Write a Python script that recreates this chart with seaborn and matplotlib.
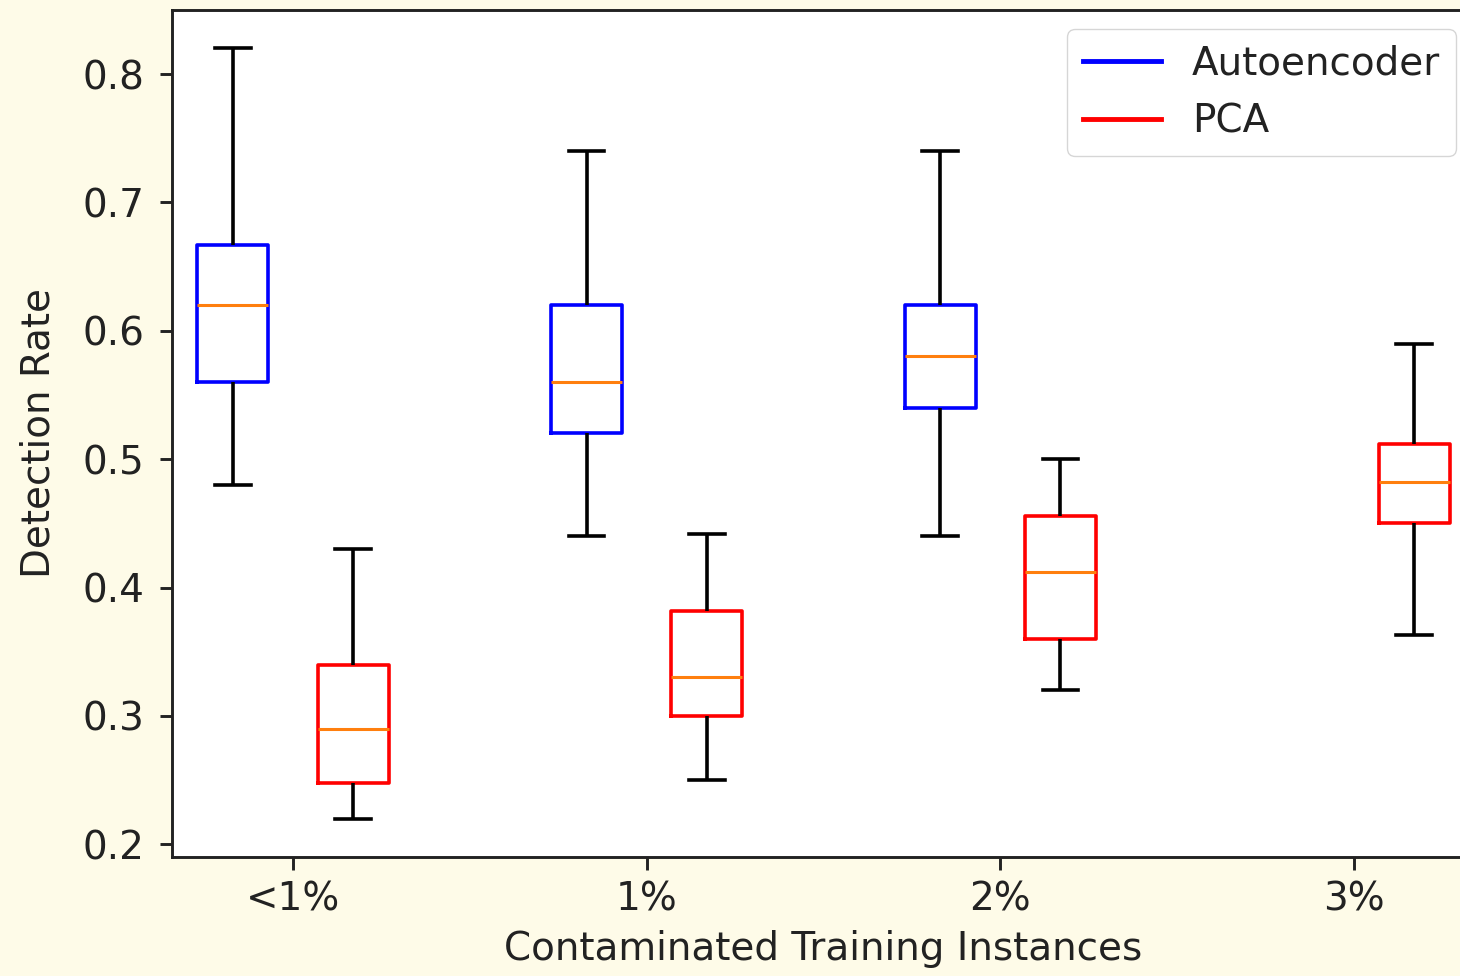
import numpy as np
import pandas as pd
import seaborn as sns
import matplotlib.pyplot as plt
from matplotlib.lines import Line2D

# categories on the x axis and the two models
categories = ["<1%", "1%", "2%", "3%"]
models = ["Autoencoder", "PCA"]

# five-number summaries (min, q1, median, q3, max)
# Autoencoder has no box at 3%
ae_min = [0.48, 0.44, 0.44, np.nan]
ae_q1 = [0.56, 0.52, 0.54, np.nan]
ae_med = [0.62, 0.56, 0.58, np.nan]
ae_q3 = [0.667, 0.62, 0.62, np.nan]
ae_max = [0.82, 0.74, 0.74, np.nan]

pca_min = [0.22, 0.25, 0.32, 0.363]
pca_q1 = [0.248, 0.30, 0.36, 0.45]
pca_med = [0.29, 0.33, 0.412, 0.482]
pca_q3 = [0.34, 0.382, 0.456, 0.512]
pca_max = [0.43, 0.442, 0.50, 0.59]

model_stats = {
    "Autoencoder": [ae_min, ae_q1, ae_med, ae_q3, ae_max],
    "PCA": [pca_min, pca_q1, pca_med, pca_q3, pca_max],
}

# long-form table: 5 points per box, so the quartiles land on the read values
rows = []
for model in models:
    for i, cat in enumerate(categories):
        for arr in model_stats[model]:
            if not np.isnan(arr[i]):
                rows.append({"Contamination": cat, "Model": model, "Detection Rate": arr[i]})
df = pd.DataFrame(rows)

colors = {"Autoencoder": "blue", "PCA": "red"}

fig = plt.figure(figsize=(14.6, 9.76), dpi=100, facecolor="#fefbe8")
# axes runs a little past the right edge, like the cropped original
ax = fig.add_axes([0.1178, 0.1219, 0.8925, 0.8679])
ax.set_facecolor("white")

sns.boxplot(
    data=df, x="Contamination", y="Detection Rate", hue="Model",
    order=categories, hue_order=models, palette=colors,
    fill=False, dodge=True, width=0.68, gap=0.41, whis=(0, 100),
    linewidth=2.6,
    medianprops={"color": "#ff7f0e", "linewidth": 2.2},
    whiskerprops={"color": "black", "linewidth": 2.6},
    capprops={"color": "black", "linewidth": 2.6},
    legend=False, ax=ax,
)

ax.set_xlim(-0.342, 3.342)
ax.set_ylim(0.19, 0.85)
ax.set_yticks([0.2, 0.3, 0.4, 0.5, 0.6, 0.7, 0.8])

ax.set_xlabel("Contaminated Training Instances", fontsize=28, labelpad=8)
ax.set_ylabel("Detection Rate", fontsize=28, labelpad=18)
ax.tick_params(axis="both", labelsize=28, length=9, width=2.1, colors="#222222")
ax.tick_params(axis="y", pad=11)
ax.tick_params(axis="x", pad=8)
ax.xaxis.label.set_color("#222222")
ax.yaxis.label.set_color("#222222")
for spine in ax.spines.values():
    spine.set_linewidth(2.1)
    spine.set_color("#222222")

# legend uses plain lines like the original
handles = [Line2D([], [], color=colors[m], linewidth=3.5) for m in models]
leg = ax.legend(handles, models, loc="upper right", fontsize=28)
for t in leg.get_texts():
    t.set_color("#222222")

fig.savefig("out.png", dpi=100, facecolor=fig.get_facecolor())
